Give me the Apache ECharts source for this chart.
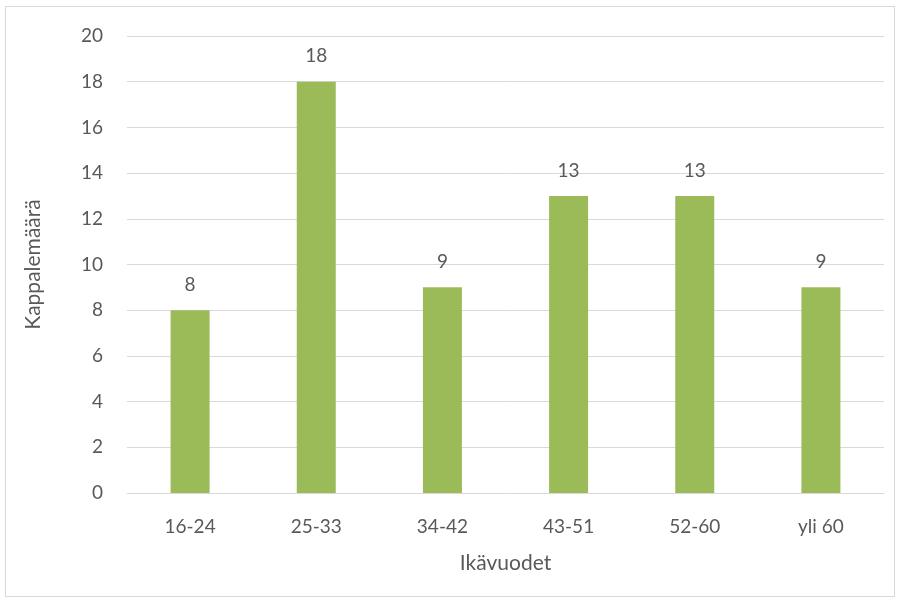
<!DOCTYPE html>
<html>
<head>
<meta charset="utf-8">
<script src="https://cdn.jsdelivr.net/npm/echarts@6/dist/echarts.min.js"></script>
<style>
  html, body { margin: 0; padding: 0; background: #fff; }
  #frame { position: absolute; left: 5px; top: 6px; width: 890px; height: 591px; border: 1px solid #d9d9d9; box-sizing: border-box; }
  #chart { position: absolute; left: 0; top: 0; width: 901px; height: 604px; }
</style>
</head>
<body>
<div id="frame"></div>
<div id="chart"></div>
<script>
// Age groups and their counts
const categories = ['16-24', '25-33', '34-42', '43-51', '52-60', 'yli 60'];
const counts = [8, 18, 9, 13, 13, 9];
const yTicks = [0, 2, 4, 6, 8, 10, 12, 14, 16, 18, 20];

const textColor = '#595959';
const font = 'Lato, Open Sans, sans-serif';

const chart = echarts.init(document.getElementById('chart'), null, { renderer: 'canvas' });
chart.setOption({
  animation: false,
  grid: { left: 127, right: 17, top: 36, bottom: 111 },
  xAxis: {
    type: 'category',
    data: categories,
    name: 'Ikävuodet',
    nameLocation: 'middle',
    nameGap: 60,
    nameTextStyle: { color: textColor, fontSize: 21, fontFamily: font },
    axisLine: { show: true, lineStyle: { color: '#d9d9d9', width: 1 } },
    axisTick: { show: false },
    axisLabel: { color: textColor, fontSize: 19, fontFamily: font, margin: 24 }
  },
  yAxis: {
    type: 'value',
    min: yTicks[0],
    max: yTicks[yTicks.length - 1],
    interval: yTicks[1] - yTicks[0],
    name: 'Kappalemäärä',
    nameLocation: 'middle',
    nameGap: 83,
    nameTextStyle: { color: textColor, fontSize: 21, fontFamily: font },
    axisLine: { show: false },
    axisTick: { show: false },
    splitLine: { lineStyle: { color: '#d9d9d9', width: 1 } },
    axisLabel: { color: textColor, fontSize: 19, fontFamily: font, margin: 24 }
  },
  series: [{
    type: 'bar',
    data: counts,
    barWidth: 39,
    itemStyle: { color: '#9bbb59' },
    label: {
      show: true,
      position: 'top',
      distance: 16,
      color: textColor,
      fontSize: 19,
      fontFamily: font
    }
  }]
});
</script>
</body>
</html>
